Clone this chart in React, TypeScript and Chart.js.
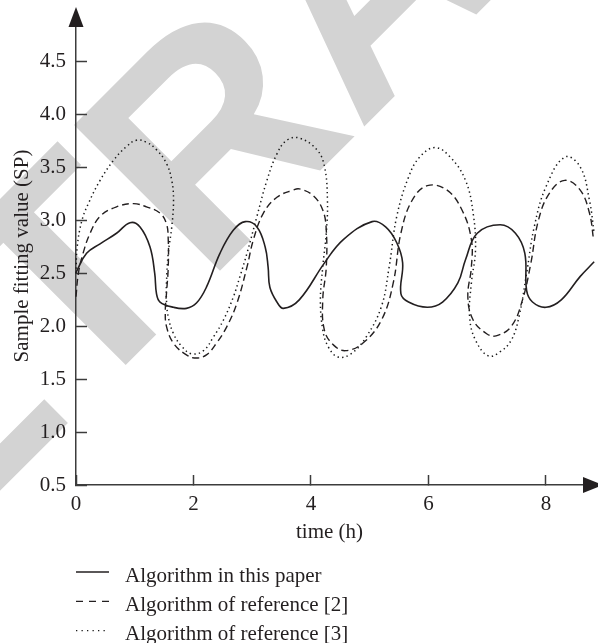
import React, { useEffect, useRef } from 'react';
import { Chart, registerables } from 'chart.js';

Chart.register(...registerables);

// ---- data ----
const seriesLabels = ['Algorithm in this paper', 'Algorithm of reference [2]', 'Algorithm of reference [3]'];
const xAxisTitle = 'time (h)';
const yAxisTitle = 'Sample fitting value (SP)';
const watermarkText = 'RETRACTED';

const solidX = [0, 0.18, 0.41, 0.69, 0.92, 1.09, 1.26, 1.34, 1.37, 1.43, 1.66, 1.88, 2.05, 2.22, 2.45, 2.68, 2.88, 3.08, 3.22, 3.27, 3.3, 3.42, 3.53, 3.8, 4.23, 4.55, 5.04, 5.27, 5.46, 5.56, 5.53, 5.66, 5.98, 6.24, 6.5, 6.63, 6.83, 7.22, 7.48, 7.64, 7.67, 7.77, 8.0, 8.26, 8.58, 8.82];
const solidY = [2.51, 2.69, 2.78, 2.88, 2.98, 2.94, 2.75, 2.5, 2.31, 2.23, 2.18, 2.17, 2.22, 2.37, 2.69, 2.91, 2.99, 2.94, 2.75, 2.56, 2.37, 2.23, 2.17, 2.25, 2.6, 2.82, 2.99, 2.94, 2.79, 2.6, 2.31, 2.23, 2.18, 2.23, 2.41, 2.63, 2.88, 2.96, 2.88, 2.69, 2.34, 2.23, 2.18, 2.25, 2.47, 2.61];

const dashX = [0, 0.04, 0.12, 0.24, 0.41, 0.69, 0.98, 1.2, 1.43, 1.54, 1.57, 1.57, 1.54, 1.52, 1.54, 1.66, 1.88, 2.05, 2.22, 2.39, 2.57, 2.74, 2.91, 3.02, 3.19, 3.42, 3.7, 3.8, 4.03, 4.2, 4.26, 4.26, 4.2, 4.23, 4.39, 4.59, 4.88, 5.2, 5.4, 5.53, 5.72, 5.98, 6.31, 6.57, 6.73, 6.73, 6.67, 6.76, 6.99, 7.15, 7.41, 7.6, 7.74, 7.87, 8.06, 8.32, 8.58, 8.74, 8.81];
const dashY = [2.28, 2.5, 2.69, 2.88, 3.04, 3.13, 3.16, 3.13, 3.07, 2.97, 2.82, 2.56, 2.31, 2.15, 2.0, 1.84, 1.73, 1.7, 1.73, 1.84, 2.0, 2.22, 2.56, 2.82, 3.07, 3.22, 3.29, 3.3, 3.24, 3.1, 2.91, 2.56, 2.25, 1.96, 1.82, 1.77, 1.84, 2.06, 2.41, 2.88, 3.19, 3.33, 3.29, 3.1, 2.82, 2.56, 2.28, 2.06, 1.93, 1.91, 2.0, 2.25, 2.59, 3.0, 3.26, 3.38, 3.29, 3.07, 2.82];

const dotX = [0, 0.02, 0.1, 0.21, 0.41, 0.64, 0.86, 1.03, 1.2, 1.37, 1.54, 1.63, 1.66, 1.63, 1.57, 1.54, 1.54, 1.57, 1.66, 1.8, 1.97, 2.17, 2.34, 2.51, 2.68, 2.79, 2.91, 3.08, 3.25, 3.42, 3.59, 3.8, 4.1, 4.23, 4.28, 4.26, 4.2, 4.16, 4.2, 4.29, 4.46, 4.68, 4.94, 5.2, 5.33, 5.46, 5.66, 5.85, 6.11, 6.37, 6.63, 6.76, 6.8, 6.73, 6.7, 6.8, 7.02, 7.22, 7.41, 7.54, 7.67, 7.8, 8.0, 8.32, 8.58, 8.74, 8.82];
const dotY = [2.5, 2.75, 3.0, 3.16, 3.38, 3.57, 3.7, 3.76, 3.74, 3.67, 3.54, 3.38, 3.19, 2.94, 2.69, 2.41, 2.25, 2.09, 1.93, 1.81, 1.74, 1.77, 1.9, 2.06, 2.28, 2.47, 2.69, 3.04, 3.38, 3.63, 3.76, 3.78, 3.67, 3.51, 3.19, 2.88, 2.56, 2.25, 1.97, 1.81, 1.71, 1.74, 1.9, 2.19, 2.56, 3.04, 3.41, 3.6, 3.69, 3.6, 3.38, 3.07, 2.72, 2.41, 2.09, 1.87, 1.72, 1.76, 1.87, 2.09, 2.5, 2.94, 3.32, 3.6, 3.51, 3.19, 2.88];

const xMin = 0;
const xMax = 8.63;
const xStep = 2;
const yMin = 0.5;
const yMax = 4.83;
const yStep = 0.5;

// ---- styles ----
const INK = '#231f20';
const AXIS = '#3c3c3c';
const FONT_FAMILY = "'Liberation Serif', 'Times New Roman', serif";
const lineDashes = [[], [7, 4], [1.4, 3.2]];
const legendDashes = [[], [7, 6], [1.3, 4.2]];
const lineWidths = [1.6, 1.4, 1.5];

const toPoints = (xs: number[], ys: number[]) => xs.map((x, i) => ({ x, y: ys[i] }));

const decorPlugin = {
  id: 'decor',
  beforeDraw(chart: any) {
    const { ctx } = chart;
    ctx.save();
    ctx.translate(-218.5, 709.3);
    ctx.rotate(-Math.PI / 4);
    ctx.font = "bold 300px 'Liberation Sans', Arial, sans-serif";
    ctx.fillStyle = '#d3d3d3';
    ctx.textBaseline = 'alphabetic';
    ctx.textAlign = 'left';
    ctx.fillText(watermarkText, 0, 0);
    ctx.restore();
  },
  afterDraw(chart: any) {
    const { ctx, chartArea: a } = chart;
    ctx.save();
    ctx.fillStyle = INK;
    // y-axis arrow
    ctx.beginPath();
    ctx.moveTo(a.left, a.top - 20);
    ctx.lineTo(a.left - 7.5, a.top);
    ctx.lineTo(a.left + 7.5, a.top);
    ctx.closePath();
    ctx.fill();
    // x-axis arrow
    ctx.beginPath();
    ctx.moveTo(a.right + 20, a.bottom);
    ctx.lineTo(a.right, a.bottom - 8);
    ctx.lineTo(a.right, a.bottom + 8);
    ctx.closePath();
    ctx.fill();

    // legend
    const lineX0 = 76;
    const lineX1 = 109;
    const textX = 125;
    const firstY = 572;
    const rowGap = 29.3;
    ctx.font = `21px ${FONT_FAMILY}`;
    ctx.textAlign = 'left';
    ctx.textBaseline = 'alphabetic';
    chart.data.datasets.forEach((ds: any, i: number) => {
      const y = firstY + i * rowGap;
      ctx.save();
      ctx.strokeStyle = ds.borderColor;
      ctx.lineWidth = 1.3;
      ctx.setLineDash(legendDashes[i]);
      ctx.beginPath();
      ctx.moveTo(lineX0, y);
      ctx.lineTo(lineX1, y);
      ctx.stroke();
      ctx.restore();
      ctx.fillStyle = INK;
      ctx.fillText(ds.label, textX, y + 9.5);
    });
    ctx.restore();
  },
};

export default function App() {
  const canvasRef = useRef<HTMLCanvasElement | null>(null);

  useEffect(() => {
    if (!canvasRef.current) return;
    const series = [toPoints(solidX, solidY), toPoints(dashX, dashY), toPoints(dotX, dotY)];
    const colors = [INK, INK, '#1a1a1a'];
    const chart = new Chart(canvasRef.current, {
      type: 'scatter',
      data: {
        datasets: series.map((pts, i) => ({
          label: seriesLabels[i],
          data: pts,
          showLine: true,
          borderColor: colors[i],
          backgroundColor: colors[i],
          borderWidth: lineWidths[i],
          borderDash: lineDashes[i],
          pointRadius: 0,
          pointHoverRadius: 0,
          tension: 0.4,
          clip: false,
          fill: false,
        })),
      },
      plugins: [decorPlugin],
      options: {
        responsive: false,
        animation: false,
        events: [],
        layout: { padding: { left: 0, right: 15, top: 27, bottom: 98 } },
        elements: { line: { capBezierPoints: false } },
        plugins: {
          legend: { display: false },
          tooltip: { enabled: false },
        },
        scales: {
          x: {
            type: 'linear',
            min: xMin,
            max: xMax,
            afterFit: (s: any) => {
              s.height = 60;
              s.paddingLeft = 0;
              s.paddingRight = 0;
            },
            border: { display: true, color: AXIS, width: 1.5 },
            grid: {
              display: true,
              drawOnChartArea: false,
              drawTicks: true,
              tickLength: -10,
              tickColor: AXIS,
              tickWidth: 1.5,
            },
            ticks: {
              stepSize: xStep,
              includeBounds: false,
              padding: 17,
              color: INK,
              maxRotation: 0,
              font: { family: FONT_FAMILY, size: 21, lineHeight: 1.2 },
              callback: (v: any) => String(v),
            },
            title: {
              display: true,
              text: xAxisTitle,
              color: INK,
              padding: { top: 0, bottom: 0 },
              font: { family: FONT_FAMILY, size: 21, lineHeight: 1.2 },
            },
          },
          y: {
            type: 'linear',
            min: yMin,
            max: yMax,
            afterFit: (s: any) => {
              s.width = 76;
              s.paddingTop = 0;
              s.paddingBottom = 0;
            },
            border: { display: true, color: AXIS, width: 1.5 },
            grid: {
              display: true,
              drawOnChartArea: false,
              drawTicks: true,
              tickLength: -11,
              tickColor: AXIS,
              tickWidth: 1.5,
            },
            ticks: {
              stepSize: yStep,
              includeBounds: false,
              padding: 21,
              color: INK,
              font: { family: FONT_FAMILY, size: 21, lineHeight: 1.2 },
              callback: (v: any) => Number(v).toFixed(1),
            },
            title: {
              display: true,
              text: yAxisTitle,
              color: INK,
              padding: { top: 10, bottom: 0 },
              font: { family: FONT_FAMILY, size: 21, lineHeight: 1.2 },
            },
          },
        },
      } as any,
    });
    return () => chart.destroy();
  }, []);

  return (
    <div style={{ position: 'fixed', left: 0, top: 0, width: 598, height: 643, background: '#fff' }}>
      <canvas ref={canvasRef} width={598} height={643} style={{ display: 'block' }} />
    </div>
  );
}
